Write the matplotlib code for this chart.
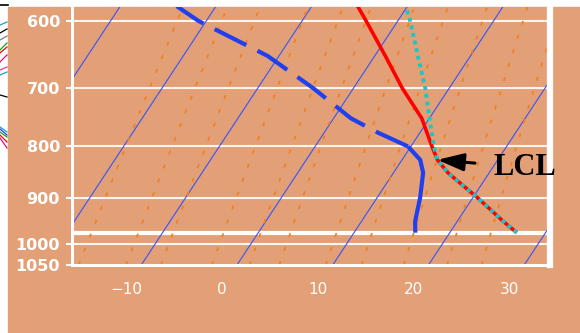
import numpy as np
import matplotlib
matplotlib.use("Agg")
import matplotlib.pyplot as plt
from matplotlib.patches import Rectangle

# --- sounding (pressure hPa, temperature degC) ---
temp_p = [975, 950, 900, 850, 825, 800, 750, 700, 650, 600, 580]
temp_t = [27.0, 24.8, 20.5, 15.7, 13.7, 12.2, 9.2, 5.1, 1.1, -3.3, -5.2]

# dewpoint: solid below 800 hPa, dashed above
dew_low_p = [975, 950, 900, 850, 825, 800]
dew_low_t = [16.4, 15.6, 14.5, 13.1, 11.9, 9.7]
dew_up_p = [800, 775, 750, 700, 650, 600, 580]
dew_up_t = [9.7, 5.6, 1.8, -4.2, -11.2, -20.8, -24.1]

# lifted parcel (dry adiabat to LCL, then moist)
parcel_p = [975, 950, 900, 850, 825, 800, 750, 700, 650, 600, 580]
parcel_t = [27.0, 24.8, 20.5, 15.7, 13.7, 12.4, 10.0, 7.5, 4.5, 1.3, -0.2]

lcl_p = 825
lcl_t = 13.7

# background grid
isotherms = np.arange(-60, 50, 10)
mixing_ratios = [1, 1.5, 2, 3, 4, 5, 7, 9, 12, 16, 20]
pressure_levels = [600, 700, 800, 900, 1000]
surface_p = 975
ytick_vals = [600, 700, 800, 900, 1000, 1050]
xtick_temps = [-10, 0, 10, 20, 30]

# bits of a neighbouring chart visible in the left margin (pixel rows at x=0 / x=7)
strip_colors = ['#1E9AD6', 'black', 'gray', '#1BA11B', '#E01010', '#E0107A',
                '#FF3C78', '#1E9AD6', 'black', '#1E9AD6', '#2040F0',
                '#1BA11B', '#E01010', '#E0107A']
strip_y0 = [25, 33, 40, 50, 53, 62, 70, 75, 95, 127, 129, 132, 135, 138]
strip_y1 = [22, 29, 36, 43, 47, 55, 67, 72, 97, 132, 135, 137, 142, 148]

TAN = '#E3A077'
P_BOT = 1050
P_TOP = 580.4
SKEW = 30.0


def skew(t, p):
    """Shift a temperature to the skewed x coordinate."""
    return np.asarray(t) + SKEW * np.log(P_BOT / np.asarray(p, dtype=float))


def dewpoint_for_mixing_ratio(w, p):
    e = w * p / (622.0 + w)
    a = np.log(e / 6.112)
    return 243.5 * a / (17.67 - a)


fig = plt.figure(figsize=(5.8, 3.33), dpi=100, facecolor='white')
fig.add_artist(Rectangle((8 / 580, 0), 1 - 8 / 580, 326.5 / 333,
                         transform=fig.transFigure, color=TAN, zorder=0))

# margin strip in pixel coordinates
strip = fig.add_axes([0, 0, 1, 1], zorder=0)
strip.set_xlim(0, 580)
strip.set_ylim(333, 0)
strip.axis('off')
for c, a, b in zip(strip_colors, strip_y0, strip_y1):
    strip.plot([0, 7], [a, b], color=c, lw=0.9)
strip.plot([0, 8], [5, 5], color='black', lw=1.2)

ax = fig.add_axes([71.5 / 580, 68 / 333, (550 - 71.5) / 580, (265 - 6.5) / 333],
                  zorder=1)
ax.set_facecolor(TAN)
ax.set_yscale('log')
ax.set_ylim(P_BOT, P_TOP)
ax.set_xlim((71.5 - 237) / 9.575, (550 - 237) / 9.575)

# horizontal pressure lines
for p in pressure_levels:
    ax.axhline(p, color='#FFF6F0', lw=1.5, zorder=1)
ax.axhline(surface_p, color='white', lw=3.0, zorder=1)

p_line = np.linspace(P_BOT, P_TOP, 60)

# isotherms
for t in isotherms:
    ax.plot(skew([t, t], [P_BOT, P_TOP]), [P_BOT, P_TOP],
            color='#3C58F5', lw=0.85, zorder=2)

# mixing ratio lines
for w in mixing_ratios:
    td = dewpoint_for_mixing_ratio(w, p_line)
    ax.plot(skew(td, p_line), p_line, color='#F2801F', lw=1.3,
            linestyle=(0, (2.2, 6)), zorder=2)

# temperature, dewpoint, parcel
ax.plot(skew(temp_t, temp_p), temp_p, color='#FF0000', lw=2.6, zorder=4,
        solid_capstyle='butt')
ax.plot(skew(dew_low_t, dew_low_p), dew_low_p, color='#2040F0', lw=3.0,
        zorder=4, solid_capstyle='butt')
ax.plot(skew(dew_up_t, dew_up_p), dew_up_p, color='#2040F0', lw=3.0,
        zorder=4, linestyle=(0, (8.5, 3.0)))
ax.plot(skew(parcel_t, parcel_p), parcel_p, color='#1FC4C4', lw=2.8,
        zorder=5, linestyle=(0, (1, 1)))

ax.annotate('LCL', xy=(skew(lcl_t, lcl_p), lcl_p), xytext=(40, -11),
            textcoords='offset points', ha='left', va='baseline',
            fontsize=22, fontweight='bold', family='Liberation Serif',
            color='black', zorder=6,
            arrowprops=dict(arrowstyle='-|>,head_length=0.8,head_width=0.27',
                            mutation_scale=20, color='black', lw=2.2,
                            shrinkA=11, shrinkB=0, relpos=(0.0, 0.6)))

# axes frame
ax.spines['top'].set_visible(False)
ax.spines['left'].set_color('white')
ax.spines['left'].set_linewidth(2.2)
ax.spines['bottom'].set_color('white')
ax.spines['bottom'].set_linewidth(2.2)
ax.spines['right'].set_color('white')
ax.spines['right'].set_linewidth(4.5)

ax.yaxis.set_minor_locator(matplotlib.ticker.NullLocator())
ax.set_yticks(ytick_vals)
ax.set_yticklabels([str(v) for v in ytick_vals])
ax.tick_params(axis='y', which='major', colors='white', length=4.3, width=1.5,
               pad=4, labelsize=11.5)
for lab in ax.get_yticklabels():
    lab.set_fontweight('bold')

# x labels sit where the isotherms would meet the label row (~1107 hPa)
ax.set_xticks(skew(xtick_temps, 1107))
ax.set_xticklabels([f'{t}'.replace('-', '\u2212') for t in xtick_temps])
ax.tick_params(axis='x', colors='white', length=0, pad=12, labelsize=11)

fig.savefig('out.png', dpi=100, facecolor='white')
